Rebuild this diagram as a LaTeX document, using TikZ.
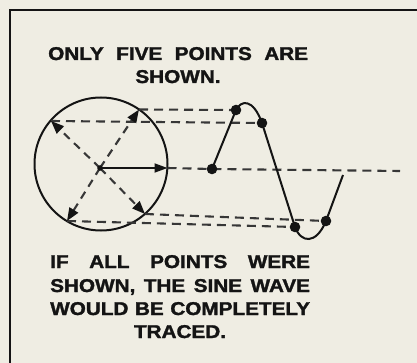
\documentclass[tikz,border=0pt]{standalone}
\usepackage{fontspec}
\setmainfont{Liberation Sans}[BoldFeatures={FakeBold=1.5}]
\usetikzlibrary{arrows.meta}
\definecolor{bg}{RGB}{239,237,227}
\definecolor{ink}{RGB}{20,20,20}
\definecolor{dline}{RGB}{55,55,55}
\tikzset{
  txt/.style={inner sep=0pt, font=\bfseries\fontsize{18.5}{20}\selectfont, text=ink},
  dashline/.style={draw=dline, line width=2.1pt, dash pattern=on 9pt off 6pt},
  radial/.style={draw=dline, line width=2.1pt, dash pattern=on 8pt off 6pt, -{Triangle[length=13pt,width=10pt,color=ink,fill=ink]}},
  solidarrow/.style={draw=ink, line width=1.8pt, -{Triangle[length=13pt,width=9pt]}},
  wave/.style={draw=ink, line width=2pt},
  frame/.style={draw=ink, line width=2.6pt}
}
\begin{document}
\begin{tikzpicture}[x=1pt,y=-1pt]
\path[fill=bg] (0,0) rectangle (417,363);
\useasboundingbox (0,0) rectangle (417,363);
% frame
\coordinate (fa) at (10,363);
\coordinate (fb) at (10,10);
\coordinate (fc) at (417,10);
\draw[frame] (fa) -- (fb) -- (fc);
% texts
\node[txt, anchor=base west] (t1) at (48,60) {\scalebox{1.12}[1]{\makebox[232pt][s]{ONLY FIVE POINTS ARE}}};
\node[txt, anchor=base] (t2) at (178,83) {\scalebox{1.12}[1]{SHOWN.}};
\node[txt, anchor=base west] (b1) at (50,268) {\scalebox{1.12}[1]{\makebox[232pt][s]{IF ALL POINTS WERE}}};
\node[txt, anchor=base west] (b2) at (50,292) {\scalebox{1.12}[1]{\makebox[232pt][s]{SHOWN, THE SINE WAVE}}};
\node[txt, anchor=base west] (b3) at (50,315) {\scalebox{1.12}[1]{\makebox[232pt][s]{WOULD BE COMPLETELY}}};
\node[txt, anchor=base] (b4) at (180,338) {\scalebox{1.12}[1]{TRACED.}};
% circle
\node[circle, draw=ink, line width=2pt, minimum size=133pt, inner sep=0pt] (circ) at (101,164) {};
\coordinate (O) at (100,168);
\coordinate (P0) at (167.5,168);
\coordinate (P1) at (139,109.5);
\coordinate (P2) at (51,121);
\coordinate (P3) at (67,221);
\coordinate (P4) at (145,214);
% wave points
\coordinate (W0) at (212,169);
\coordinate (W1) at (236,110);
\coordinate (W2) at (262,123);
\coordinate (W3) at (295,227);
\coordinate (W4) at (326,221);
\coordinate (E) at (343,175);
\coordinate (M) at (400,171);
% horizontal dashed projections
\draw[dashline] (P0) -- (W0) -- (M);
\draw[dashline] (P1) -- (W1);
\draw[dashline] (P2) -- (W2);
\draw[dashline] (P3) -- (W3);
\draw[dashline] (P4) -- (W4);
% radial arrows
\draw[radial] (O) -- (P1);
\draw[radial] (O) -- (P2);
\draw[radial] (O) -- (P3);
\draw[radial] (O) -- (P4);
\draw[solidarrow] (O) -- (P0);
\fill[ink] (O) circle (2.8pt);
% sine wave
\draw[wave] (W0) -- (W1) .. controls (241,100) and (253,98) .. (W2) -- (W3) .. controls (301,243) and (316,245) .. (W4) -- (E);
% dots
\foreach \n in {W0,W1,W2,W3,W4} \fill[ink] (\n) circle (5.3pt);
\end{tikzpicture}
\end{document}
